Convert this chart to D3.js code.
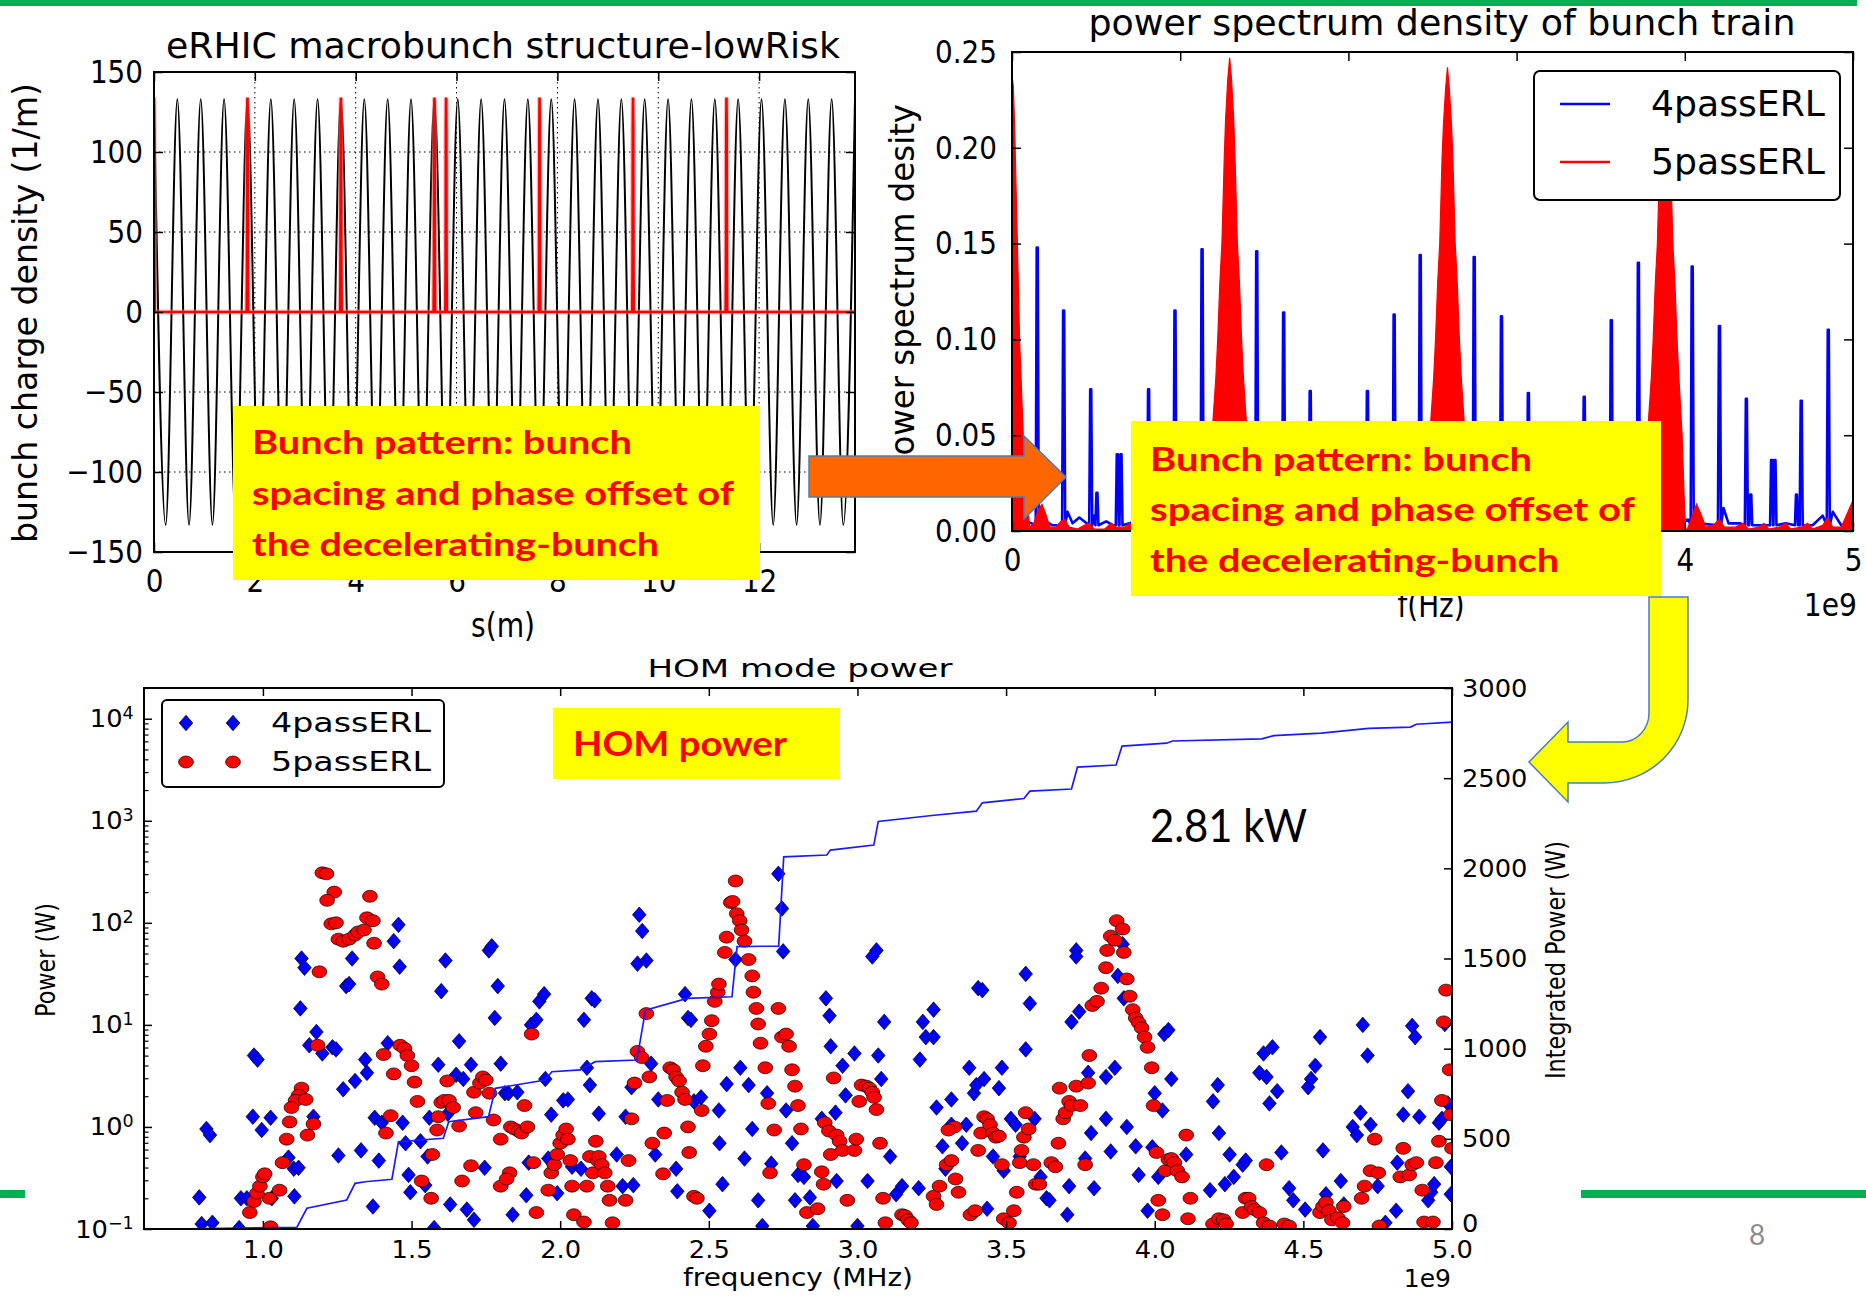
<!DOCTYPE html>
<html>
<head>
<meta charset="utf-8">
<script src="https://cdn.jsdelivr.net/npm/d3@7"></script>
<style>
  html, body { margin: 0; padding: 0; background: #fff; }
  svg { display: block; }
</style>
</head>
<body>
<svg id="slide" width="1866" height="1301"></svg>
<script>
// ---------------------------------------------------------------------------
// Panel 1: eRHIC macrobunch structure (s in m, density in 1/m)
// RF wave crests / troughs
const rfWave = [
  [0.000,133],[0.232,-133],[0.463,133],[0.695,-133],[0.927,133],[1.159,-133],[1.390,133],[1.622,-133],
  [1.854,133],[2.085,-133],[2.317,133],[2.549,-133],[2.780,133],[3.012,-133],[3.244,133],[3.476,-133],
  [3.707,133],[3.939,-133],[4.171,133],[4.402,-133],[4.634,133],[4.866,-133],[5.097,133],[5.329,-133],
  [5.561,133],[5.793,-133],[6.024,133],[6.256,-133],[6.488,133],[6.719,-133],[6.951,133],[7.183,-133],
  [7.414,133],[7.646,-133],[7.878,133],[8.110,-133],[8.341,133],[8.573,-133],[8.805,133],[9.036,-133],
  [9.268,133],[9.500,-133],[9.731,133],[9.963,-133],[10.195,133],[10.427,-133],[10.658,133],[10.890,-133],
  [11.122,133],[11.353,-133],[11.585,133],[11.817,-133],[12.048,133],[12.280,-133],[12.512,133],[12.744,-133],
  [12.975,133],[13.207,-133],[13.439,133],[13.670,-133],[13.902,133]
];
// bunch positions along the train and the bunch line shape
const bunchCentresS = [0, 1.854, 3.707, 5.561, 5.793, 7.646, 9.500, 11.353];
const bunchPeak = 134;
const bunchProfile = [[-0.016,0],[-0.01,0.2],[-0.005,0.85],[0,1],[0.005,0.85],[0.01,0.2],[0.016,0]];
const p1XTicks = [0, 2, 4, 6, 8, 10, 12];
const p1YTicks = [-150, -100, -50, 0, 50, 100, 150];

// ---------------------------------------------------------------------------
// Panel 2: power spectrum density of bunch train (f in GHz -> axis 1e9 Hz)
const psd4Spikes = [
  [0.150,0.148],[0.307,0.115],[0.468,0.074],[0.505,0.020],[0.626,0.040],[0.648,0.040],[0.812,0.074],[0.969,0.115],[1.130,0.147],
  [1.455,0.146],[1.615,0.114],[1.773,0.073],[1.932,0.040],[1.952,0.040],[2.113,0.073],[2.272,0.113],[2.427,0.144],
  [2.748,0.143],[2.910,0.112],[3.070,0.072],[3.226,0.038],[3.246,0.038],[3.402,0.070],[3.563,0.110],[3.724,0.140],
  [4.044,0.138],[4.206,0.107],[4.366,0.069],[4.392,0.019],[4.516,0.037],[4.536,0.037],[4.664,0.019],[4.692,0.068],[4.853,0.105]
];
const psd4Floor = [
  [0.000,0.002],[0.090,0.005],[0.175,0.006],[0.240,0.003],[0.330,0.010],[0.360,0.004],[0.400,0.007],[0.490,0.008],
  [0.560,0.005],[0.600,0.003],[0.700,0.004],[0.780,0.006],[0.880,0.004],[1.000,0.006],[1.080,0.004],
  [3.950,0.004],[4.020,0.006],[4.080,0.004],[4.230,0.012],[4.260,0.004],[4.330,0.004],[4.380,0.010],[4.440,0.003],
  [4.500,0.003],[4.600,0.004],[4.670,0.010],[4.760,0.003],[4.820,0.008],[4.880,0.010],[4.930,0.003],[5.000,0.002]
];
const psd5Envelope = [
  [0.000,0.238],[0.008,0.232],[0.016,0.210],[0.024,0.180],[0.032,0.150],[0.045,0.100],[0.067,0.050],[0.080,0.025],[0.094,0.012],[0.105,0.002],
  [0.130,0.004],[0.155,0.011],[0.178,0.014],[0.200,0.009],[0.225,0.002],[0.260,0.002],[0.290,0.005],[0.315,0.006],[0.340,0.002],[0.390,0.001],
  [0.430,0.003],[0.460,0.004],[0.490,0.001],[0.550,0.001],[0.590,0.004],[0.620,0.002],[0.670,0.002],[0.700,0.004],[0.740,0.001],[0.800,0.002],
  [0.830,0.004],[0.870,0.001],[0.950,0.003],[0.980,0.006],[1.010,0.002],[1.060,0.002],[1.090,0.009],[1.116,0.014],[1.140,0.008],[1.155,0.002],
  [1.160,0.000],[1.176,0.018],[1.189,0.050],[1.212,0.080],[1.223,0.100],[1.236,0.130],[1.248,0.150],[1.262,0.195],[1.270,0.215],[1.283,0.236],
  [1.294,0.247],[1.305,0.236],[1.318,0.215],[1.326,0.195],[1.340,0.150],[1.352,0.130],[1.365,0.100],[1.376,0.080],[1.399,0.050],[1.412,0.018],
  [1.428,0.000],
  [1.440,0.002],[1.472,0.014],[1.500,0.009],[1.530,0.002],[1.580,0.003],[1.610,0.006],[1.640,0.002],[1.720,0.002],[1.760,0.004],[1.790,0.001],
  [1.860,0.002],[1.890,0.004],[1.930,0.001],[1.980,0.002],[2.010,0.004],[2.050,0.001],[2.100,0.002],[2.130,0.004],[2.160,0.001],[2.240,0.002],
  [2.270,0.006],[2.300,0.002],[2.350,0.003],[2.380,0.009],[2.410,0.014],[2.440,0.006],[2.450,0.002],
  [2.455,0.000],[2.471,0.018],[2.484,0.050],[2.507,0.080],[2.518,0.100],[2.531,0.130],[2.543,0.150],[2.557,0.195],[2.565,0.212],[2.578,0.231],
  [2.589,0.242],[2.600,0.231],[2.613,0.212],[2.621,0.195],[2.635,0.150],[2.647,0.130],[2.660,0.100],[2.671,0.080],[2.694,0.050],[2.707,0.018],
  [2.723,0.000],
  [2.735,0.002],[2.765,0.013],[2.790,0.009],[2.820,0.002],[2.870,0.003],[2.905,0.006],[2.930,0.002],[3.010,0.002],[3.050,0.004],[3.080,0.001],
  [3.140,0.002],[3.180,0.004],[3.220,0.001],[3.270,0.002],[3.300,0.004],[3.340,0.001],[3.390,0.002],[3.420,0.004],[3.450,0.001],[3.530,0.002],
  [3.560,0.006],[3.590,0.002],[3.640,0.003],[3.670,0.009],[3.700,0.013],[3.730,0.006],[3.745,0.002],
  [3.749,0.000],[3.765,0.018],[3.778,0.050],[3.801,0.080],[3.812,0.100],[3.825,0.130],[3.837,0.150],[3.851,0.195],[3.859,0.210],[3.872,0.229],
  [3.883,0.240],[3.894,0.229],[3.907,0.210],[3.915,0.195],[3.929,0.150],[3.941,0.130],[3.954,0.100],[3.965,0.080],[3.984,0.050],[3.996,0.018],
  [4.006,0.000],
  [4.020,0.002],[4.045,0.008],[4.070,0.014],[4.095,0.009],[4.125,0.002],[4.170,0.003],[4.205,0.006],[4.235,0.002],[4.300,0.002],[4.345,0.004],
  [4.380,0.001],[4.440,0.002],[4.470,0.004],[4.500,0.001],[4.560,0.002],[4.600,0.004],[4.630,0.001],[4.690,0.002],[4.730,0.004],[4.760,0.001],
  [4.820,0.003],[4.850,0.007],[4.880,0.002],[4.930,0.002],[4.960,0.008],[4.980,0.012],[5.000,0.016]
];
const p2XTicks = [0, 1, 2, 3, 4, 5];
const p2YTicks = [0, 0.05, 0.10, 0.15, 0.20, 0.25];

// ---------------------------------------------------------------------------
// Panel 3: HOM mode power, [frequency GHz, power W]
const hom4Points = [
  [0.786,0.204],[0.794,0.112],[0.83,0.115],[0.81,0.955],[0.822,0.832],[0.926,0.2],[0.946,0.2],[0.97,5.01],[0.982,4.57],[0.966,1.26],
  [0.996,0.933],[1.026,1.23],[1.03,0.2],[0.92,0.102],[1.104,0.389],[1.106,0.209],[1.086,0.5],[1.12,0.398],[1.126,14.5],[1.13,44.7],
  [1.14,36.3],[1.156,6.31],[1.17,1.26],[1.18,8.51],[1.2,5.25],[1.234,6.03],[1.246,5.75],[1.254,0.525],[1.27,2.34],[1.28,24],
  [1.29,25.1],[1.3,44.7],[1.31,2.82],[1.33,0.589],[1.344,4.57],[1.35,3.39],[1.37,0.166],[1.376,1.23],[1.39,0.468],[1.4,1.1],
  [1.42,6.61],[1.44,66.1],[1.456,95.5],[1.46,37.2],[1.47,1.1],[1.48,0.692],[1.49,0.339],[1.496,0.229],[1.53,0.724],[1.546,0.269],
  [1.554,0.513],[1.56,1.23],[1.576,0.102],[1.59,4.07],[1.6,21.4],[1.614,42.7],[1.622,1.35],[1.63,0.174],[1.65,3.24],[1.66,6.92],
  [1.674,2.95],[1.686,0.155],[1.7,4.07],[1.71,0.123],[1.746,0.398],[1.76,53.7],[1.77,58.9],[1.78,11.7],[1.79,24],[1.8,4.17],
  [1.814,2.14],[1.826,2.14],[1.84,0.138],[1.856,2.19],[1.886,0.214],[1.894,0.447],[1.902,10],[1.92,11.2],[1.93,17],[1.946,20],
  [1.95,2.95],[1.96,0.49],[1.97,1.32],[1.99,0.224],[2.01,1.82],[2.026,1.86],[2.04,0.407],[2.07,0.389],[2.08,11.2],[2.09,3.8],
  [2.1,2.57],[2.106,18.2],[2.116,17.4],[2.13,1.35],[2.19,0.537],[2.21,0.263],[2.22,1.26],[2.24,2.45],[2.246,0.269],[2.26,39.8],
  [2.266,120],[2.276,83.2],[2.29,42.7],[2.306,4.17],[2.32,0.537],[2.33,1.86],[2.39,0.389],[2.394,0.234],[2.42,20],[2.43,11.7],
  [2.44,11.2],[2.45,1.78],[2.474,1.95],[2.502,0.151],[2.534,1.45],[2.536,0.692],[2.546,0.275],[2.56,2.63],[2.59,43.7],[2.606,3.8],
  [2.62,0.49],[2.634,2.57],[2.646,0.955],[2.666,0.191],[2.68,0.107],[2.696,2.14],[2.71,0.437],[2.734,302],[2.746,138],[2.75,52.5],
  [2.76,1.45],[2.78,0.692],[2.79,0.191],[2.8,0.339],[2.82,0.324],[2.84,0.204],[2.85,0.107],[2.88,1.2],[2.894,18.2],[2.906,12.3],
  [2.91,6.17],[2.926,1.38],[2.93,0.295],[2.95,3.98],[2.96,2.04],[2.99,5.25],[3.0,0.107],[3.034,0.295],[3.05,46.8],[3.064,53.7],
  [3.07,5.01],[3.08,2.95],[3.09,10.7],[3.11,0.513],[3.13,0.219],[3.15,0.263],[3.206,0.251],[3.22,10.7],[3.23,7.59],[3.21,4.57],
  [3.256,14.1],[3.256,7.59],[3.266,1.55],[3.286,0.646],[3.296,0.389],[3.316,1.05],[3.316,1.86],[3.352,0.692],[3.366,1.05],[3.376,3.8],
  [3.392,2.14],[3.4,2.57],[3.406,22.9],[3.42,21.9],[3.426,2.95],[3.436,0.158],[3.456,0.513],[3.476,2.4],[3.486,3.8],[3.492,0.372],
  [3.516,1.2],[3.532,1.05],[3.546,0.513],[3.566,31.6],[3.566,5.75],[3.58,16.2],[3.596,1.2],[3.616,0.324],[3.636,0.2],[3.646,0.191],
  [3.706,0.138],[3.712,0.263],[3.72,10.7],[3.736,53.7],[3.736,46.8],[3.746,13.5],[3.766,0.49],[3.776,3.39],[3.786,0.871],[3.796,0.251],
  [3.836,1.2],[3.836,3.09],[3.852,0.575],[3.866,3.8],[3.876,30.2],[3.892,61.7],[3.896,18.2],[3.906,1.0],[3.936,0.646],[3.946,0.339],
  [3.976,0.151],[3.992,0.631],[4.0,2.14],[4.012,0.324],[4.026,1.45],[4.032,8.13],[4.046,8.91],[4.056,2.95],[4.106,0.537],[4.186,0.24],
  [4.196,1.78],[4.212,2.57],[4.216,0.871],[4.236,0.275],[4.252,0.537],[4.266,0.324],[4.296,0.427],[4.306,0.468],[4.352,3.39],[4.366,5.25],
  [4.376,3.09],[4.386,1.7],[4.396,6.03],[4.412,2.24],[4.426,0.562],[4.452,0.251],[4.466,0.191],[4.506,0.155],[4.516,2.45],[4.526,2.95],
  [4.54,3.98],[4.556,7.59],[4.566,0.589],[4.576,0.219],[4.626,0.295],[4.636,0.174],[4.666,1.0],[4.68,0.832],[4.692,1.38],[4.7,10],
  [4.716,5.01],[4.726,1.05],[4.75,0.263],[4.776,0.115],[4.812,0.151],[4.816,0.447],[4.836,1.32],[4.852,2.24],[4.866,9.77],[4.876,7.59],
  [4.89,1.26],[4.92,0.191],[4.93,0.229],[4.94,0.275],[4.956,1.1],[4.966,1.2],[4.976,10.2],[4.986,1.7],[4.996,0.407],[4.996,0.219]
];
const hom5Points = [
  [1.2,309],[1.214,302],[1.24,200],[1.216,166],[1.36,182],[1.23,97.7],[1.246,100],[1.254,69.2],[1.27,66.1],[1.29,69.2],
  [1.31,75.9],[1.32,81.3],[1.34,85.1],[1.35,112],[1.37,105],[1.374,63.1],[1.386,29.5],[1.4,25.1],[1.19,33.1],[1.184,6.31],
  [1.406,5.13],[1.44,3.31],[1.462,6.31],[1.476,5.89],[1.486,5.01],[1.5,3.98],[1.51,2.75],[1.52,1.78],[1.43,1.29],[1.414,0.871],
  [1.13,2.4],[1.12,2.04],[1.11,1.82],[1.096,1.55],[1.09,1.12],[1.08,0.759],[1.144,1.86],[1.17,1.07],[1.15,0.832],[1.066,0.447],
  [1.056,0.24],[1.022,0.2],[0.956,0.145],[0.97,0.186],[0.98,0.224],[0.99,0.263],[1.0,0.324],[1.006,0.347],[1.026,0.105],[1.62,2.82],
  [1.6,1.74],[1.61,1.82],[1.626,1.82],[1.64,1.55],[1.59,1.26],[1.586,0.933],[1.66,1.02],[1.57,0.537],[1.534,0.295],[1.566,0.2],
  [1.67,0.295],[1.7,0.417],[1.71,2.19],[1.73,2.69],[1.74,3.09],[1.75,2.88],[1.716,1.38],[1.762,2.14],[1.776,1.17],[1.8,0.759],
  [1.8,0.263],[1.83,0.355],[1.82,0.309],[1.834,1.0],[1.846,0.955],[1.86,0.912],[1.87,0.871],[1.88,1.62],[1.89,1.0],[1.904,8.13],
  [1.91,0.447],[1.92,0.145],[1.96,0.24],[1.97,0.355],[1.98,0.427],[1.99,0.537],[2.0,0.692],[2.01,0.832],[2.02,0.955],[2.026,0.759],
  [2.034,0.468],[2.04,0.263],[2.046,0.138],[2.08,0.117],[2.09,0.263],[2.1,0.513],[2.11,0.355],[2.12,0.724],[2.126,0.468],[2.13,0.513],
  [2.14,0.427],[2.15,0.355],[2.16,0.263],[2.166,0.191],[2.176,0.115],[2.22,0.191],[2.23,0.468],[2.24,1.2],[2.25,2.69],[2.26,5.5],
  [2.274,4.79],[2.29,12.9],[2.3,3.09],[2.31,0.692],[2.346,0.347],[2.35,0.871],[2.36,1.82],[2.37,3.8],[2.38,3.63],[2.39,3.09],
  [2.4,2.82],[2.41,2.19],[2.42,1.86],[2.43,1.0],[2.434,0.562],[2.45,0.209],[2.46,0.2],[2.476,1.45],[2.48,3.98],[2.49,6.17],
  [2.502,8.13],[2.51,11],[2.52,17],[2.53,20.9],[2.534,25.1],[2.554,51.3],[2.56,72.4],[2.574,158],[2.58,162],[2.59,257],
  [2.594,123],[2.604,105],[2.61,85.1],[2.62,66.1],[2.634,43.7],[2.646,30.2],[2.65,20.9],[2.66,14.5],[2.666,10.2],[2.674,6.61],
  [2.69,3.8],[2.7,1.7],[2.706,0.355],[2.72,0.933],[2.734,14.5],[2.746,7.59],[2.76,8.13],[2.77,6.17],[2.78,3.63],[2.79,2.51],
  [2.8,1.62],[2.81,0.955],[2.82,0.427],[2.83,0.145],[2.866,0.158],[2.88,0.363],[2.886,0.275],[2.89,1.1],[2.904,0.912],[2.91,0.537],
  [2.92,3.02],[2.93,0.832],[2.94,0.724],[2.95,0.589],[2.966,0.191],[2.99,0.589],[2.996,0.759],[3.006,1.78],[3.014,2.57],[3.03,2.51],
  [3.04,2.4],[3.05,2.19],[3.056,1.95],[3.064,1.48],[3.076,0.692],[3.086,0.2],[3.094,0.115],[3.15,0.138],[3.16,0.135],[3.17,0.123],
  [3.18,0.115],[3.256,0.209],[3.266,0.174],[3.276,0.263],[3.3,0.427],[3.316,0.468],[3.326,1.0],[3.306,0.933],[3.33,0.309],[3.34,0.229],
  [3.38,0.138],[3.396,0.151],[3.406,0.589],[3.416,0.871],[3.426,1.26],[3.436,1.2],[3.446,1.05],[3.456,0.871],[3.466,0.794],[3.476,0.813],
  [3.486,0.427],[3.492,0.126],[3.51,0.115],[3.526,0.151],[3.536,0.229],[3.546,0.447],[3.552,0.589],[3.56,0.794],[3.566,1.38],[3.576,0.955],
  [3.592,0.427],[3.6,0.275],[3.612,0.275],[3.652,0.447],[3.666,0.407],[3.676,0.692],[3.68,2.4],[3.692,1.2],[3.7,1.38],[3.712,1.78],
  [3.72,1.62],[3.736,2.51],[3.75,1.62],[3.766,0.427],[3.776,2.69],[3.78,5.01],[3.79,15.5],[3.806,17],[3.82,22.9],[3.836,36.3],
  [3.84,53.7],[3.852,74.1],[3.866,67.6],[3.872,105],[3.892,87.1],[3.896,51.3],[3.906,28.2],[3.916,19.1],[3.926,14.1],[3.936,11.7],
  [3.946,10.5],[3.956,9.33],[3.966,7.59],[3.976,6.03],[3.99,3.8],[3.996,1.62],[4.006,0.562],[4.012,0.191],[4.026,0.138],[4.036,0.372],
  [4.046,0.479],[4.056,0.49],[4.066,0.447],[4.076,0.372],[4.092,0.324],[4.106,0.832],[4.112,0.126],[4.12,0.2],[4.196,0.112],[4.216,0.126],
  [4.232,0.123],[4.24,0.112],[4.296,0.145],[4.306,0.2],[4.316,0.2],[4.326,0.166],[4.336,0.155],[4.352,0.145],[4.366,0.115],[4.376,0.427],
  [4.386,0.107],[4.436,0.112],[4.452,0.107],[4.556,0.145],[4.566,0.166],[4.576,0.182],[4.586,0.151],[4.596,0.123],[4.616,0.129],[4.632,0.115],
  [4.636,0.166],[4.696,0.2],[4.706,0.263],[4.726,0.372],[4.74,0.759],[4.752,0.355],[4.756,0.107],[4.826,0.324],[4.836,0.617],[4.856,0.339],
  [4.866,0.427],[4.88,0.447],[4.9,0.24],[4.906,0.117],[4.936,0.117],[4.946,0.447],[4.956,0.724],[4.966,1.82],[4.972,10.7],[4.98,21.9],
  [4.992,3.63],[4.996,1.32],[5.0,0.617]
];
// cumulative (integrated) HOM power, [frequency GHz, W]
const homIntegrated = [
  [0.699,0],[1.114,9],[1.148,115],[1.282,161],[1.31,253],[1.344,262],[1.434,276],[1.456,484],[1.607,503],[1.625,595],
  [1.759,623],[1.782,780],[1.95,826],[1.972,872],[2.068,882],[2.118,928],[2.258,937],[2.287,1214],[2.427,1279],[2.578,1288],
  [2.595,1566],[2.735,1569],[2.752,2064],[2.897,2074],[2.909,2101],[3.055,2129],[3.07,2260],[3.25,2293],[3.40,2317],[3.42,2363],
  [3.56,2387],[3.58,2428],[3.72,2440],[3.74,2561],[3.87,2573],[3.89,2678],[4.04,2694],[4.06,2706],[4.36,2718],[4.40,2736],
  [4.56,2750],[4.72,2776],[4.86,2783],[4.88,2799],[5.0,2811]
];
const p3XTicks = [1.0, 1.5, 2.0, 2.5, 3.0, 3.5, 4.0, 4.5, 5.0];
const p3Decades = [0.1, 1, 10, 100, 1000, 10000];
const p3RightTicks = [0, 500, 1000, 1500, 2000, 2500, 3000];
const seriesNames = ["4passERL", "5passERL"];
const patternNote = ["Bunch pattern: bunch", "spacing and phase offset of", "the decelerating-bunch"];

// ---------------------------------------------------------------------------
const svg = d3.select("#slide");
const FONT = "'DejaVu Sans', sans-serif";
const NOTE_FONT = "Lato, 'Open Sans', sans-serif";
const BLUE = "#0000ff", RED = "#ff0000", GREEN = "#00b050";

svg.append("rect").attr("width", 1866).attr("height", 1301).attr("fill", "#fff");

// text helper: positioned, optionally rotated, horizontally scaled or fitted to a length
function label(g, s, x, y, o = {}) {
  const t = g.append("text")
    .attr("transform", `translate(${x},${y}) rotate(${o.rot || 0}) scale(${o.sx || 1},${o.sy || 1})`)
    .attr("text-anchor", o.anchor || "start")
    .attr("font-family", o.family || FONT)
    .attr("font-size", o.size || 20)
    .attr("font-weight", o.weight || "normal")
    .attr("fill", o.fill || "#000")
    .text(s);
  if (o.len) t.attr("textLength", o.len).attr("lengthAdjust", "spacingAndGlyphs");
  return t;
}

// restyle the tick marks / labels produced by a d3 axis
function styleAxis(ag, size, sx, tickWidth) {
  ag.select(".domain").remove();
  ag.selectAll(".tick line").attr("stroke", "#000").attr("stroke-width", tickWidth || 1.5);
  ag.selectAll(".tick text").each(function () {
    const t = d3.select(this);
    const x = +t.attr("x") || 0;
    t.attr("x", x / sx).attr("transform", `scale(${sx},1)`)
     .attr("font-family", FONT).attr("font-size", size).attr("fill", "#000");
  });
  ag.attr("font-family", null).attr("font-size", null);
}

function clipRect(id, x0, y0, x1, y1) {
  svg.append("clipPath").attr("id", id).append("rect")
    .attr("x", x0).attr("y", y0).attr("width", x1 - x0).attr("height", y1 - y0);
}

// ===========================================================================
// Panel 1: macrobunch structure
{
  const P = { x0: 154, x1: 855, y0: 72, y1: 552 };
  const xs = d3.scaleLinear([0, 13.902], [P.x0, P.x1]);
  const ys = d3.scaleLinear([-150, 150], [P.y1, P.y0]);
  const g = svg.append("g");
  clipRect("clip1", P.x0, P.y0, P.x1, P.y1);

  const grid = g.append("g").attr("stroke", "#000").attr("stroke-width", 1).attr("stroke-dasharray", "1.5,3.5");
  grid.selectAll("line.v").data(p1XTicks.filter(v => v > 0)).join("line")
    .attr("x1", d => xs(d)).attr("x2", d => xs(d)).attr("y1", P.y0).attr("y2", P.y1);
  grid.selectAll("line.h").data(p1YTicks.filter(v => v > -150 && v < 150)).join("line")
    .attr("x1", P.x0).attr("x2", P.x1).attr("y1", d => ys(d)).attr("y2", d => ys(d));

  const plot = g.append("g").attr("clip-path", "url(#clip1)");
  plot.append("path").datum(rfWave)
    .attr("d", d3.line().x(d => xs(d[0])).y(d => ys(d[1])).curve(d3.curveMonotoneX))
    .attr("fill", "none").attr("stroke", "#000").attr("stroke-width", 2);

  const bunchPts = bunchCentresS.flatMap(c => bunchProfile.map(([dx, p]) => [c + dx, bunchPeak * p]));
  bunchPts.push([-0.2, 0], [14.1, 0]);
  bunchPts.sort((a, b) => a[0] - b[0]);
  const redLine = d3.line().x(d => xs(d[0])).y(d => ys(d[1]));
  plot.append("path").datum(bunchPts).attr("d", redLine)
    .attr("fill", "none").attr("stroke", "#ff8080").attr("stroke-width", 5).attr("stroke-opacity", 0.5);
  plot.append("path").datum(bunchPts).attr("d", redLine)
    .attr("fill", "none").attr("stroke", RED).attr("stroke-width", 2.6);

  const fmt = d3.format("d");
  const ab = g.append("g").attr("transform", `translate(0,${P.y1})`)
    .call(d3.axisBottom(xs).tickValues(p1XTicks).tickFormat(fmt).tickSizeInner(-9).tickSizeOuter(0).tickPadding(17));
  styleAxis(ab, 32, 0.87);
  const at = g.append("g").attr("transform", `translate(0,${P.y0})`)
    .call(d3.axisTop(xs).tickValues(p1XTicks).tickFormat("").tickSizeInner(-9).tickSizeOuter(0));
  styleAxis(at, 32, 1);
  const al = g.append("g").attr("transform", `translate(${P.x0},0)`)
    .call(d3.axisLeft(ys).tickValues(p1YTicks).tickFormat(fmt).tickSizeInner(-9).tickSizeOuter(0).tickPadding(11));
  styleAxis(al, 32, 0.87);
  const ar = g.append("g").attr("transform", `translate(${P.x1},0)`)
    .call(d3.axisRight(ys).tickValues(p1YTicks).tickFormat("").tickSizeInner(-9).tickSizeOuter(0));
  styleAxis(ar, 32, 1);

  g.append("rect").attr("x", P.x0).attr("y", P.y0).attr("width", P.x1 - P.x0).attr("height", P.y1 - P.y0)
    .attr("fill", "none").attr("stroke", "#000").attr("stroke-width", 2);

  label(g, "eRHIC macrobunch structure-lowRisk", 503, 58, { size: 36, anchor: "middle", len: 674 });
  label(g, "s(m)", 503, 637, { size: 33, anchor: "middle", len: 64 });
  label(g, "bunch charge density (1/m)", 37, 313, { size: 33, anchor: "middle", rot: -90, len: 460 });
}

// ===========================================================================
// Panel 2: power spectrum density
{
  const P = { x0: 1012, x1: 1853, y0: 52, y1: 531 };
  const xs = d3.scaleLinear([0, 5], [P.x0, P.x1]);
  const ys = d3.scaleLinear([0, 0.25], [P.y1, P.y0]);
  const g = svg.append("g");
  clipRect("clip2", P.x0, P.y0, P.x1, P.y1);
  const plot = g.append("g").attr("clip-path", "url(#clip2)");

  // 4-pass: narrow harmonic lines over a low floor
  const bluePts = psd4Floor.slice();
  psd4Spikes.forEach(([f, h]) => {
    bluePts.push([f - 0.009, 0.003], [f - 0.003, h], [f + 0.003, h], [f + 0.009, 0.003]);
  });
  bluePts.sort((a, b) => a[0] - b[0]);
  plot.append("path").datum(bluePts)
    .attr("d", d3.line().x(d => xs(d[0])).y(d => ys(d[1])))
    .attr("fill", "none").attr("stroke", BLUE).attr("stroke-width", 2.6).attr("stroke-linejoin", "round");

  // 5-pass: filled envelope
  plot.append("path").datum(psd5Envelope)
    .attr("d", d3.area().x(d => xs(d[0])).y0(ys(0)).y1(d => ys(d[1])))
    .attr("fill", RED).attr("stroke", RED).attr("stroke-width", 1.2);

  const ab = g.append("g").attr("transform", `translate(0,${P.y1})`)
    .call(d3.axisBottom(xs).tickValues(p2XTicks).tickFormat(d3.format("d")).tickSizeInner(-9).tickSizeOuter(0).tickPadding(17));
  styleAxis(ab, 32, 0.87);
  const at = g.append("g").attr("transform", `translate(0,${P.y0})`)
    .call(d3.axisTop(xs).tickValues(p2XTicks).tickFormat("").tickSizeInner(-9).tickSizeOuter(0));
  styleAxis(at, 32, 1);
  const al = g.append("g").attr("transform", `translate(${P.x0},0)`)
    .call(d3.axisLeft(ys).tickValues(p2YTicks).tickFormat(d3.format(".2f")).tickSizeInner(-9).tickSizeOuter(0).tickPadding(15));
  styleAxis(al, 32, 0.87);
  const ar = g.append("g").attr("transform", `translate(${P.x1},0)`)
    .call(d3.axisRight(ys).tickValues(p2YTicks).tickFormat("").tickSizeInner(-9).tickSizeOuter(0));
  styleAxis(ar, 32, 1);

  g.append("rect").attr("x", P.x0).attr("y", P.y0).attr("width", P.x1 - P.x0).attr("height", P.y1 - P.y0)
    .attr("fill", "none").attr("stroke", "#000").attr("stroke-width", 2);

  label(g, "power spectrum density of bunch train", 1442, 35, { size: 36, anchor: "middle", len: 707 });
  label(g, "f(Hz)", 1431, 617, { size: 33, anchor: "middle", len: 67 });
  label(g, "1e9", 1857, 616, { size: 32, anchor: "end", sx: 0.88 });
  label(g, "power spectrum desity", 914, 290, { size: 33, anchor: "middle", rot: -90, len: 372 });

  // legend
  const lg = g.append("g");
  lg.append("rect").attr("x", 1534).attr("y", 71).attr("width", 306).attr("height", 129).attr("rx", 6)
    .attr("fill", "#fff").attr("stroke", "#000").attr("stroke-width", 2);
  [[BLUE, 104, 116], [RED, 162, 174]].forEach(([c, ly, ty], i) => {
    lg.append("line").attr("x1", 1560).attr("x2", 1610).attr("y1", ly).attr("y2", ly)
      .attr("stroke", c).attr("stroke-width", 2.5);
    label(lg, seriesNames[i], 1651, ty, { size: 36, len: 174 });
  });
}

// ===========================================================================
// Panel 3: HOM mode power
{
  const P = { x0: 144, x1: 1452, y0: 688, y1: 1229 };
  const xs = d3.scaleLinear([0.6, 5.0], [P.x0, P.x1]);
  const ys = d3.scaleLog([0.1, 2e4], [P.y1, P.y0]);
  const yr = d3.scaleLinear([0, 3000], [P.y1, P.y0]);
  const g = svg.append("g");
  clipRect("clip3", P.x0, P.y0, P.x1, P.y1);
  const plot = g.append("g").attr("clip-path", "url(#clip3)");

  const diamond = "M0,-7.8L6.8,0L0,7.8L-6.8,0Z";
  plot.append("g").selectAll("path").data(hom4Points).join("path")
    .attr("d", diamond)
    .attr("transform", d => `translate(${xs(d[0])},${ys(d[1])})`)
    .attr("fill", BLUE).attr("stroke", "#000").attr("stroke-width", 0.7);
  plot.append("g").selectAll("ellipse").data(hom5Points).join("ellipse")
    .attr("cx", d => xs(d[0])).attr("cy", d => ys(d[1])).attr("rx", 7.4).attr("ry", 6)
    .attr("fill", RED).attr("stroke", "#000").attr("stroke-width", 0.7);
  plot.append("path").datum(homIntegrated)
    .attr("d", d3.line().x(d => xs(d[0])).y(d => yr(d[1])))
    .attr("fill", "none").attr("stroke", "#1a1aff").attr("stroke-width", 1.7);

  const ab = g.append("g").attr("transform", `translate(0,${P.y1})`)
    .call(d3.axisBottom(xs).tickValues(p3XTicks).tickFormat(d3.format(".1f")).tickSizeInner(-8).tickSizeOuter(0).tickPadding(11));
  styleAxis(ab, 25, 1.03);
  const at = g.append("g").attr("transform", `translate(0,${P.y0})`)
    .call(d3.axisTop(xs).tickValues(p3XTicks).tickFormat("").tickSizeInner(-8).tickSizeOuter(0));
  styleAxis(at, 25, 1);

  const minor = [];
  p3Decades.slice(0, -1).forEach(d => { for (let k = 2; k <= 9; k++) minor.push(d * k); });
  minor.push(20000);
  const alm = g.append("g").attr("transform", `translate(${P.x0},0)`)
    .call(d3.axisLeft(ys).tickValues(minor).tickFormat("").tickSizeInner(-4.5).tickSizeOuter(0));
  styleAxis(alm, 25, 1, 1.2);
  const al = g.append("g").attr("transform", `translate(${P.x0},0)`)
    .call(d3.axisLeft(ys).tickValues(p3Decades).tickFormat("").tickSizeInner(-8).tickSizeOuter(0).tickPadding(10));
  styleAxis(al, 25, 1);
  al.selectAll(".tick text").each(function (d) {
    const t = d3.select(this).attr("transform", "scale(1.03,1)");
    t.append("tspan").text("10");
    t.append("tspan").attr("dy", "-0.5em").attr("font-size", 17).text(d3.format("d")(Math.round(Math.log10(d))));
  });
  const ar = g.append("g").attr("transform", `translate(${P.x1},0)`)
    .call(d3.axisRight(yr).tickValues(p3RightTicks).tickFormat(d3.format("d")).tickSizeInner(-8).tickSizeOuter(0).tickPadding(10));
  styleAxis(ar, 25, 1.03);
  // the zero label sits just above the corner, clear of the "5.0" below it
  ar.selectAll(".tick text").filter(d => d === 0).attr("dy", "0.1em");

  g.append("rect").attr("x", P.x0).attr("y", P.y0).attr("width", P.x1 - P.x0).attr("height", P.y1 - P.y0)
    .attr("fill", "none").attr("stroke", "#000").attr("stroke-width", 2);

  label(g, "HOM mode power", 800, 677, { size: 25, anchor: "middle", len: 305 });
  label(g, "frequency (MHz)", 798, 1286, { size: 25, anchor: "middle", len: 230 });
  label(g, "1e9", 1451, 1287, { size: 25, anchor: "end" });
  label(g, "Power (W)", 55, 960, { size: 22, anchor: "middle", rot: -90, sy: 1.2, len: 114 });
  label(g, "Integrated Power (W)", 1565, 960, { size: 22, anchor: "middle", rot: -90, sy: 1.2, len: 238 });

  // legend
  const lg = g.append("g");
  lg.append("rect").attr("x", 162).attr("y", 700).attr("width", 282).attr("height", 87).attr("rx", 5)
    .attr("fill", "#fff").attr("stroke", "#000").attr("stroke-width", 2);
  [186, 233].forEach(x => {
    lg.append("path").attr("d", diamond).attr("transform", `translate(${x},723)`)
      .attr("fill", BLUE).attr("stroke", "#000").attr("stroke-width", 0.7);
    lg.append("ellipse").attr("cx", x).attr("cy", 762).attr("rx", 7.4).attr("ry", 6)
      .attr("fill", RED).attr("stroke", "#000").attr("stroke-width", 0.7);
  });
  label(lg, seriesNames[0], 271, 732, { size: 26, len: 160 });
  label(lg, seriesNames[1], 271, 771, { size: 26, len: 160 });

  label(g, "2.81 kW", 1150, 842, { size: 46, family: NOTE_FONT, len: 157 });
}

// ===========================================================================
// Slide decorations and call-outs
{
  const g = svg.append("g");
  g.append("rect").attr("x", 0).attr("y", 0).attr("width", 1857).attr("height", 6).attr("fill", GREEN);
  g.append("rect").attr("x", 0).attr("y", 1190).attr("width", 25).attr("height", 8).attr("fill", GREEN);
  g.append("rect").attr("x", 1581).attr("y", 1190).attr("width", 285).attr("height", 8).attr("fill", GREEN);
  label(g, "8", 1757, 1245, { size: 28, family: NOTE_FONT, anchor: "middle", fill: "#8c8c8c" });

  // orange arrow from the bunch pattern to its spectrum
  g.append("path")
    .attr("d", "M809,456L1024,456L1024,436L1066,477L1024,519L1024,497L809,497Z")
    .attr("fill", "#ff6600").attr("stroke", "#4a7ebb").attr("stroke-width", 1.5);

  // note boxes
  const boxes = [
    { x: 233, y: 406, w: 527, h: 174, tx: 252, base: [454, 505, 556] },
    { x: 1131, y: 421, w: 530, h: 175, tx: 1150, base: [471, 521, 572] }
  ];
  const lens = [[380, 482, 407], [382, 485, 409]];
  boxes.forEach((b, bi) => {
    g.append("rect").attr("x", b.x).attr("y", b.y).attr("width", b.w).attr("height", b.h).attr("fill", "#ffff00");
    patternNote.forEach((line, i) => {
      label(g, line, b.tx, b.base[i], { size: 33, weight: "bold", family: NOTE_FONT, fill: RED, len: lens[bi][i] });
    });
  });

  // curved yellow arrow down to the HOM plot
  g.append("path")
    .attr("d", "M1649,597L1688,597L1688,700A84,83 0 0 1 1604,783L1568,783L1568,802L1529,762L1568,722L1568,742L1622,742A27,29 0 0 0 1649,713Z")
    .attr("fill", "#ffff00").attr("stroke", "#4a7ebb").attr("stroke-width", 1.5);

  g.append("rect").attr("x", 553).attr("y", 708).attr("width", 287).attr("height", 71).attr("fill", "#ffff00");
  label(g, "HOM power", 573, 756, { size: 35, weight: "bold", family: NOTE_FONT, fill: RED, len: 214 });
}
</script>
</body>
</html>
